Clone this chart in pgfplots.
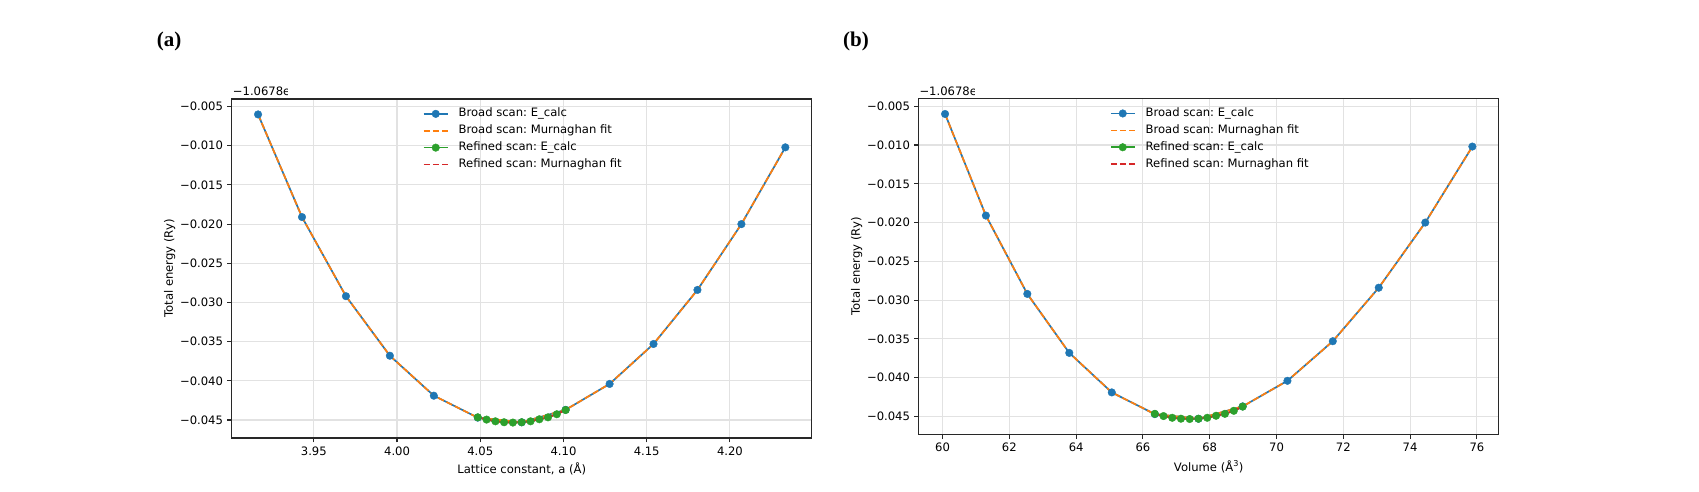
\documentclass[border=0pt]{standalone}
\usepackage{fontspec}
\setmainfont{DejaVu Sans}
\newfontfamily\panelfont{Liberation Serif}
\usepackage{pgfplots}
\usepackage{pgfplotstable}
\pgfplotsset{compat=1.18}
\frenchspacing

\definecolor{mplblue}{HTML}{1F77B4}
\definecolor{mplorange}{HTML}{FF7F0E}
\definecolor{mplgreen}{HTML}{2CA02C}
\definecolor{mplred}{HTML}{D62728}
\definecolor{gridgray}{RGB}{226,226,226}
\definecolor{spine}{RGB}{40,40,40}

% Broad scan: lattice constant a (A), volume V = a^3 (A^3), energy offset E (Ry)
\pgfplotstableread{
a      V       E
3.9165 60.075 -0.0060
3.9429 61.298 -0.0191
3.9693 62.538 -0.0292
3.9957 63.794 -0.0368
4.0221 65.067 -0.0419
4.0485 66.356 -0.0447
4.0749 67.663 -0.0453
4.1013 68.987 -0.0437
4.1277 70.327 -0.0404
4.1541 71.685 -0.0353
4.1805 73.061 -0.0284
4.2069 74.454 -0.0200
4.2333 75.864 -0.0102
}\broad

% Refined scan around the minimum
\pgfplotstableread{
a      V       E
4.0485 66.356 -0.04466
4.0538 66.616 -0.04495
4.0591 66.877 -0.04517
4.0643 67.138 -0.04529
4.0696 67.400 -0.04533
4.0749 67.663 -0.04529
4.0802 67.926 -0.04517
4.0855 68.190 -0.04491
4.0907 68.455 -0.04466
4.0960 68.721 -0.04427
4.1013 68.987 -0.04373
}\refined

\pgfplotsset{
  eos/.style={
    scale only axis,
    anchor=south west,
    width=580pt,
    font=\fontsize{11.6}{14}\selectfont,
    ymin=-0.04730, ymax=-0.00403,
    scaled y ticks=false, scaled x ticks=false,
    ytick={-0.045,-0.04,-0.035,-0.03,-0.025,-0.02,-0.015,-0.01,-0.005},
    yticklabels={−0.045,−0.040,−0.035,−0.030,−0.025,−0.020,−0.015,−0.010,−0.005},
    grid=major,
    major grid style={gridgray, line width=1.1pt},
    axis line style={spine, line width=1.1pt},
    tick align=outside,
    major tick length=4.5pt,
    tick style={spine, line width=1.1pt},
    xtick pos=left, ytick pos=left,
    xticklabel style={inner sep=0pt, anchor=north, yshift=-4pt},
    yticklabel style={inner sep=0pt, anchor=east, xshift=-4pt},
    ylabel={Total energy (Ry)},
    every axis y label/.style={at={(axis description cs:-0.1069,0.5)}, rotate=90, anchor=center},
    legend cell align=left,
    legend image code/.code={\draw[mark repeat=2,mark phase=2] plot coordinates {(0pt,0pt) (12pt,0pt) (24pt,0pt)};},
    legend style={anchor=north west, draw=none, fill=none, inner sep=0pt,
      row sep=5.9pt, column sep=10pt,
      nodes={inner sep=0pt, text height=8.5pt, text depth=2.5pt}},
  },
  broadcalc/.style={mplblue, line width=1.7pt, mark=*, mark size=3.8pt,
    mark options={solid, fill=mplblue, draw=mplblue, line width=0.4pt}},
  broadfit/.style={mplorange, line width=1.7pt, dash pattern=on 6.4pt off 2.8pt},
  refcalc/.style={mplgreen, line width=1.7pt, mark=*, mark size=3.8pt,
    mark options={solid, fill=mplgreen, draw=mplgreen, line width=0.4pt}},
  reffit/.style={mplred, line width=1.7pt, dash pattern=on 6.4pt off 2.8pt},
}

\begin{document}
\begin{tikzpicture}[x=1pt,y=1pt]
\useasboundingbox (0,0) rectangle (1699,492);

% (a) energy against lattice constant
\begin{axis}[eos, at={(231.7pt,54pt)}, height=339pt,
  xmin=3.90066, xmax=4.24914,
  xtick={3.95,4.00,4.05,4.10,4.15,4.20},
  xticklabels={3.95,4.00,4.05,4.10,4.15,4.20},
  xlabel={Lattice constant, a (Å)},
  every axis x label/.style={at={(axis description cs:0.5,-0.0914)}, anchor=center},
  legend style={at={(axis description cs:0.3293,0.9730)}}]
\addplot[broadcalc] table[x=a, y=E] {\broad};
\addlegendentry{Broad scan: E\_calc}
\addplot[broadfit] table[x=a, y=E] {\broad};
\addlegendentry{Broad scan: Murnaghan fit}
\addplot[refcalc] table[x=a, y=E] {\refined};
\addlegendentry{Refined scan: E\_calc}
\addplot[reffit] table[x=a, y=E] {\refined};
\addlegendentry{Refined scan: Murnaghan fit}
\end{axis}

% (b) energy against cell volume
\begin{axis}[eos, at={(918.7pt,57.7pt)}, height=335.6pt,
  xmin=59.286, xmax=76.653,
  xtick={60,62,64,66,68,70,72,74,76},
  xticklabels={60,62,64,66,68,70,72,74,76},
  xlabel={Volume (Å\textsuperscript{3})},
  every axis x label/.style={at={(axis description cs:0.5,-0.0965)}, anchor=center},
  legend style={at={(axis description cs:0.3293,0.9730)}}]
\addplot[broadcalc] table[x=V, y=E] {\broad};
\addlegendentry{Broad scan: E\_calc}
\addplot[broadfit] table[x=V, y=E] {\broad};
\addlegendentry{Broad scan: Murnaghan fit}
\addplot[refcalc] table[x=V, y=E] {\refined};
\addlegendentry{Refined scan: E\_calc}
\addplot[reffit] table[x=V, y=E] {\refined};
\addlegendentry{Refined scan: Murnaghan fit}
\end{axis}

% offset texts above the energy axes (cut at the figure edge of each panel)
\begin{scope}
  \clip (228,390) rectangle (287,412);
  \node[anchor=west, inner sep=0pt, font=\fontsize{11.6}{14}\selectfont] at (232.7,400.3) {−1.0678e3};
\end{scope}
\begin{scope}
  \clip (915,390) rectangle (974,412);
  \node[anchor=west, inner sep=0pt, font=\fontsize{11.6}{14}\selectfont] at (919.3,400.3) {−1.0678e3};
\end{scope}

% panel labels
\node[anchor=west, inner sep=0pt, font=\panelfont\bfseries\fontsize{21}{24}\selectfont] at (156.7,450.3) {(a)};
\node[anchor=west, inner sep=0pt, font=\panelfont\bfseries\fontsize{21}{24}\selectfont] at (843,450.3) {(b)};
\end{tikzpicture}
\end{document}
